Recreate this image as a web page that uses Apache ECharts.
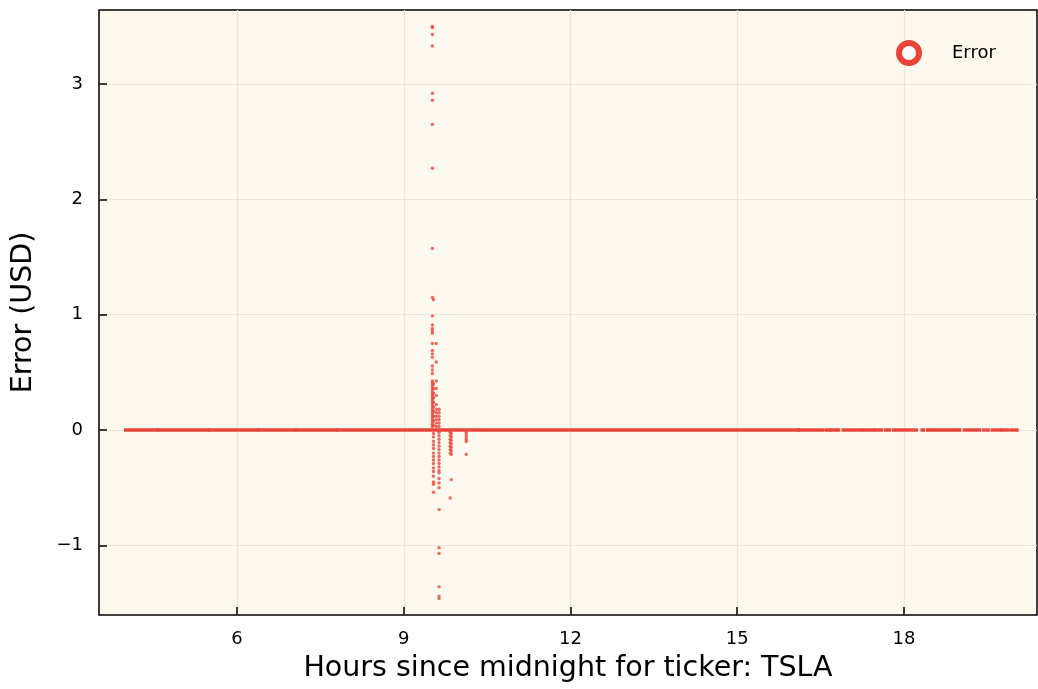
<!DOCTYPE html>
<html>
<head>
<meta charset="utf-8">
<script src="https://cdn.jsdelivr.net/npm/echarts@6/dist/echarts.min.js"></script>
<style>
  html, body { margin: 0; padding: 0; background: #ffffff; }
  #chart { width: 1038px; height: 689px; }
</style>
</head>
<body>
<div id="chart"></div>
<script>
// ---------------- data ----------------
const seriesName = 'Error';
const xAxisTitle = 'Hours since midnight for ticker: TSLA';
const yAxisTitle = 'Error (USD)';

// Runs of consecutive observations with zero error: [startHour, endHour]
const zeroRuns = [
  [3.99, 4.57], [4.59, 5.49], [5.51, 6.37], [6.39, 7.05], [7.07, 7.78], [7.80, 16.10],
  [16.10, 16.55], [16.60, 16.67], [16.68, 16.78], [16.80, 16.83], [16.90, 17.24],
  [17.27, 17.45], [17.48, 17.60], [17.66, 17.75], [17.81, 18.13], [18.17, 18.23],
  [18.32, 18.36], [18.42, 19.01], [19.08, 19.37], [19.43, 19.45], [19.50, 19.52],
  [19.58, 19.62], [19.66, 19.73], [19.76, 19.80], [19.84, 19.88], [19.93, 20.04]
];

// Non-zero errors around the open, grouped by time column
const colAHour = 9.515;
const colAVals = [3.50, 3.49, 3.43, 3.33, 2.92, 2.86, 2.65, 2.27, 1.575, 1.15, 0.99, 0.91, 0.88,
  0.86, 0.84, 0.75, 0.69, 0.66, 0.63, 0.555, 0.52, 0.49, 0.425, 0.41, 0.39, 0.37, 0.35, 0.33,
  0.31, 0.29, 0.27, 0.25, 0.23, 0.21, 0.19, 0.17, 0.15, 0.13, 0.11, 0.09, 0.07, 0.05, 0.03];
const colBHour = 9.535;
const colBVals = [1.13, 0.40, 0.36, 0.32, 0.28, 0.24, 0.20, 0.16, 0.12, 0.08, 0.04,
  -0.03, -0.06, -0.10, -0.13, -0.16, -0.20, -0.23, -0.26, -0.29, -0.33, -0.36, -0.40,
  -0.45, -0.47, -0.54];
const colCHour = 9.585;
const colCVals = [0.75, 0.59, 0.425, 0.36, 0.30, 0.22, 0.18, 0.15, 0.12, 0.09, 0.06, 0.03];
const colDHour = 9.635;
const colDVals = [0.18, 0.15, 0.12, 0.09, 0.06, 0.03, -0.02, -0.05, -0.08, -0.11, -0.14,
  -0.17, -0.20, -0.23, -0.26, -0.29, -0.32, -0.35, -0.37, -0.42, -0.46, -0.50, -0.69,
  -1.02, -1.07, -1.36, -1.44, -1.46];
const colEHour = 9.835;
const colEVals = [-0.02, -0.05, -0.08, -0.11, -0.14, -0.17, -0.20, -0.59];
const colFHour = 9.855;
const colFVals = [-0.03, -0.06, -0.09, -0.12, -0.15, -0.18, -0.21, -0.43];
const colGHour = 10.125;
const colGVals = [-0.02, -0.04, -0.06, -0.08, -0.10, -0.21];

// axis extents
const xMin = 3.517, xMax = 20.393;
const yMin = -1.604, yMax = 3.642;

// ---------------- chart ----------------
const red = '#e9433a';
const cols = [
  [colAHour, colAVals], [colBHour, colBVals], [colCHour, colCVals], [colDHour, colDVals],
  [colEHour, colEVals], [colFHour, colFVals], [colGHour, colGVals]
];
const pointData = [];
cols.forEach(([h, vals]) => vals.forEach(v => pointData.push([h, v])));
const runData = zeroRuns.map(r => [r[0], r[1], 0]);

const fontFam = '"DejaVu Sans", sans-serif';
const fmt = v => String(v).replace('-', '\u2212');

const chart = echarts.init(document.getElementById('chart'), null, { renderer: 'canvas' });
chart.setOption({
  animation: false,
  backgroundColor: '#ffffff',
  textStyle: { fontFamily: fontFam },
  grid: {
    left: 99, right: 1, top: 10, bottom: 74,
    show: true, backgroundColor: '#fdf9ee',
    borderColor: '#000000', borderWidth: 1.5
  },
  legend: {
    data: [{ name: seriesName, icon: 'circle',
      itemStyle: { color: '#ffffff', borderColor: red, borderWidth: 6 } }],
    left: 891, top: 35,
    itemWidth: 20, itemHeight: 20,
    textStyle: { fontSize: 18, color: '#000000', fontFamily: fontFam, padding: [0, 0, 0, 28] }
  },
  xAxis: {
    type: 'value', min: xMin, max: xMax, splitNumber: 5,
    name: xAxisTitle, nameLocation: 'middle', nameGap: 39,
    nameTextStyle: { fontSize: 28.5, color: '#000000', fontFamily: fontFam },
    axisLine: { show: false, onZero: false },
    axisTick: { show: true, inside: true, length: 8, lineStyle: { color: '#000', width: 1.5 } },
    axisLabel: { fontSize: 18, color: '#000', margin: 15, showMinLabel: false, showMaxLabel: false,
      formatter: fmt, fontFamily: fontFam },
    splitLine: { show: true, showMinLine: false, showMaxLine: false,
      lineStyle: { color: '#ebe6da', width: 1.2 } }
  },
  yAxis: {
    type: 'value', min: yMin, max: yMax, splitNumber: 5,
    name: yAxisTitle, nameLocation: 'middle', nameGap: 61,
    nameTextStyle: { fontSize: 28.5, color: '#000000', fontFamily: fontFam },
    axisLine: { show: false, onZero: false },
    axisTick: { show: true, inside: true, length: 8, lineStyle: { color: '#000', width: 1.5 } },
    axisLabel: { fontSize: 18, color: '#000', margin: 16, showMinLabel: false, showMaxLabel: false,
      formatter: fmt, fontFamily: fontFam },
    splitLine: { show: true, showMinLine: false, showMaxLine: false,
      lineStyle: { color: '#ebe6da', width: 1.2 } }
  },
  series: [
    {
      name: seriesName, type: 'custom', clip: true,
      encode: { x: [0, 1], y: 2 },
      data: runData,
      renderItem: function (params, api) {
        const p0 = api.coord([api.value(0), api.value(2)]);
        const p1 = api.coord([api.value(1), api.value(2)]);
        return {
          type: 'rect',
          shape: { x: p0[0] - 1.3, y: p0[1] - 1.7, width: (p1[0] - p0[0]) + 2.6, height: 3.4 },
          style: { fill: red }
        };
      }
    },
    {
      name: seriesName, type: 'scatter',
      symbol: 'circle', symbolSize: 3.4,
      itemStyle: { color: red },
      data: pointData
    }
  ]
});
</script>
</body>
</html>
